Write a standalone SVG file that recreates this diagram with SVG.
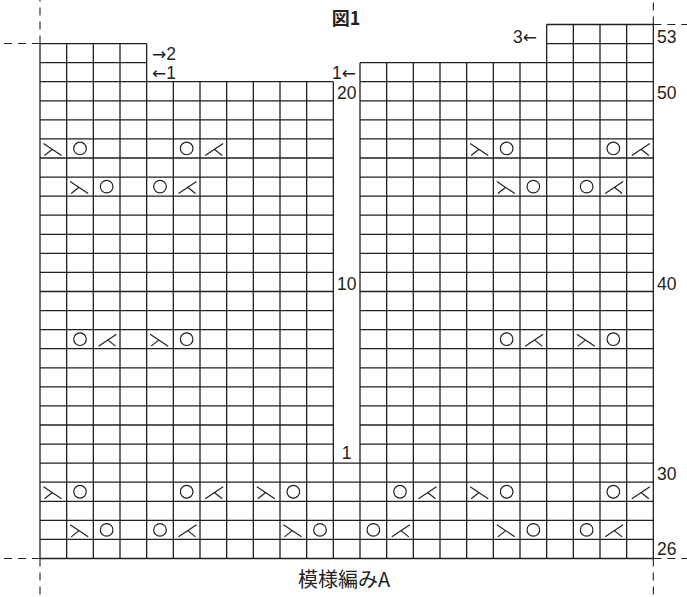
<svg xmlns="http://www.w3.org/2000/svg" width="687" height="597" viewBox="0 0 687 597">
<style>
.grid{stroke:#231f20;stroke-width:1.3;fill:none}
.dash{stroke:#231f20;stroke-width:1.1;fill:none;stroke-dasharray:8 6}
.sym{stroke:#231f20;stroke-width:1.2;fill:none}
.t{font-family:"Liberation Sans","Noto Sans",sans-serif;font-size:17.5px;fill:#231f20}
.a{font-family:"DejaVu Sans",sans-serif;font-size:17px}
.j{font-family:"Noto Sans CJK JP","Noto Sans",sans-serif;fill:#231f20}
</style>
<defs>
<path id="ssk" class="sym" d="M3.5,4.5 L21.5,16.5 M12,10.5 L4.5,16.5"/>
<path id="k2" class="sym" d="M23.17,4.5 L5.17,16.5 M14.67,10.5 L22.17,16.5"/>
<circle id="yo" class="sym" cx="13.33" cy="9.54" r="6.3"/>
</defs>
<rect width="687" height="597" fill="#fff"/>
<g id="grid" class="grid">
<path d="M546.67,24.5H653.33 M40,43.57H146.67 M546.67,43.57H653.33 M40,62.64H146.67 M360,62.64H653.33
M40,81.71H333.33 M360,81.71H653.33
M40,100.79H333.33 M360,100.79H653.33
M40,119.86H333.33 M360,119.86H653.33
M40,138.93H333.33 M360,138.93H653.33
M40,158H333.33 M360,158H653.33
M40,177.07H333.33 M360,177.07H653.33
M40,196.14H333.33 M360,196.14H653.33
M40,215.21H333.33 M360,215.21H653.33
M40,234.29H333.33 M360,234.29H653.33
M40,253.36H333.33 M360,253.36H653.33
M40,272.43H333.33 M360,272.43H653.33
M40,291.5H333.33 M360,291.5H653.33
M40,310.57H333.33 M360,310.57H653.33
M40,329.64H333.33 M360,329.64H653.33
M40,348.71H333.33 M360,348.71H653.33
M40,367.79H333.33 M360,367.79H653.33
M40,386.86H333.33 M360,386.86H653.33
M40,405.93H333.33 M360,405.93H653.33
M40,425H333.33 M360,425H653.33
M40,444.07H333.33 M360,444.07H653.33
M40,463.14H653.33 M40,482.21H653.33 M40,501.29H653.33 M40,520.36H653.33 M40,539.43H653.33 M40,558.5H653.33"/>
<path d="M40,43.57V558.5 M66.67,43.57V558.5 M93.33,43.57V558.5 M120,43.57V558.5 M146.67,43.57V558.5
M173.33,81.71V558.5 M200,81.71V558.5 M226.67,81.71V558.5 M253.33,81.71V558.5 M280,81.71V558.5 M306.67,81.71V558.5 M333.33,81.71V558.5
M360,62.64V558.5 M386.67,62.64V558.5 M413.33,62.64V558.5 M440,62.64V558.5 M466.67,62.64V558.5 M493.33,62.64V558.5 M520,62.64V558.5
M546.67,24.5V558.5 M573.33,24.5V558.5 M600,24.5V558.5 M626.67,24.5V558.5 M653.33,24.5V558.5"/>
</g>
<g id="extension-lines" class="dash">
<path d="M40,43.57V0 M40,43.57H0"/>
<path d="M653.33,24.5V0 M653.33,24.5H687"/>
<path d="M40,558.5V597 M40,558.5H0"/>
<path d="M653.33,558.5V597 M653.33,558.5H687"/>
</g>
<g id="symbols">
<use href="#ssk" x="40" y="138.93"/><use href="#yo" x="66.67" y="138.93"/><use href="#yo" x="173.33" y="138.93"/><use href="#k2" x="200" y="138.93"/>
<use href="#ssk" x="466.67" y="138.93"/><use href="#yo" x="493.33" y="138.93"/><use href="#yo" x="600" y="138.93"/><use href="#k2" x="626.67" y="138.93"/>
<use href="#ssk" x="66.67" y="177.07"/><use href="#yo" x="93.33" y="177.07"/><use href="#yo" x="146.67" y="177.07"/><use href="#k2" x="173.33" y="177.07"/>
<use href="#ssk" x="493.33" y="177.07"/><use href="#yo" x="520" y="177.07"/><use href="#yo" x="573.33" y="177.07"/><use href="#k2" x="600" y="177.07"/>
<use href="#yo" x="66.67" y="329.64"/><use href="#k2" x="93.33" y="329.64"/><use href="#ssk" x="146.67" y="329.64"/><use href="#yo" x="173.33" y="329.64"/>
<use href="#yo" x="493.33" y="329.64"/><use href="#k2" x="520" y="329.64"/><use href="#ssk" x="573.33" y="329.64"/><use href="#yo" x="600" y="329.64"/>
<use href="#ssk" x="40" y="482.21"/><use href="#yo" x="66.67" y="482.21"/><use href="#yo" x="173.33" y="482.21"/><use href="#k2" x="200" y="482.21"/>
<use href="#ssk" x="253.33" y="482.21"/><use href="#yo" x="280" y="482.21"/><use href="#yo" x="386.67" y="482.21"/><use href="#k2" x="413.33" y="482.21"/>
<use href="#ssk" x="466.67" y="482.21"/><use href="#yo" x="493.33" y="482.21"/><use href="#yo" x="600" y="482.21"/><use href="#k2" x="626.67" y="482.21"/>
<use href="#ssk" x="66.67" y="520.36"/><use href="#yo" x="93.33" y="520.36"/><use href="#yo" x="146.67" y="520.36"/><use href="#k2" x="173.33" y="520.36"/>
<use href="#ssk" x="280" y="520.36"/><use href="#yo" x="306.67" y="520.36"/><use href="#yo" x="360" y="520.36"/><use href="#k2" x="386.67" y="520.36"/>
<use href="#ssk" x="493.33" y="520.36"/><use href="#yo" x="520" y="520.36"/><use href="#yo" x="573.33" y="520.36"/><use href="#k2" x="600" y="520.36"/>
</g>
<g id="labels">
<text class="j" x="346" y="24.5" font-size="18" font-weight="bold" text-anchor="middle">図1</text>
<text class="t" x="152" y="60"><tspan class="a">→</tspan>2</text>
<text class="t" x="152" y="78.5"><tspan class="a">←</tspan>1</text>
<text class="t" x="356" y="78.5" text-anchor="end">1<tspan class="a">←</tspan></text>
<text class="t" x="537" y="42.5" text-anchor="end">3<tspan class="a">←</tspan></text>
<text class="t" x="346.7" y="98.5" text-anchor="middle">20</text>
<text class="t" x="346.7" y="290" text-anchor="middle">10</text>
<text class="t" x="346.7" y="459" text-anchor="middle">1</text>
<text class="t" x="657" y="43">53</text>
<text class="t" x="657" y="98.5">50</text>
<text class="t" x="657" y="290">40</text>
<text class="t" x="657" y="479.5">30</text>
<text class="t" x="657" y="555">26</text>
<text class="j" x="344" y="587" font-size="20" text-anchor="middle">模様編みA</text>
</g>
</svg>
